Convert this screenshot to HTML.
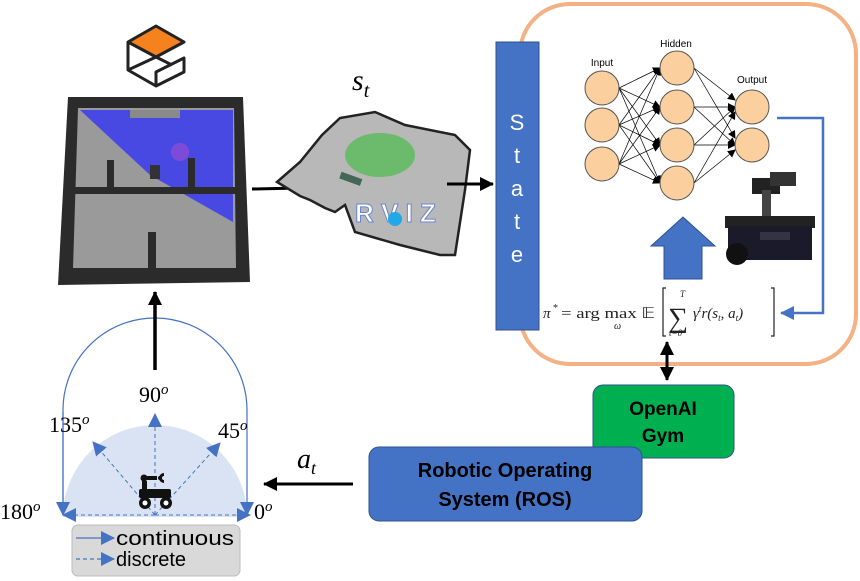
<!DOCTYPE html>
<html><head><meta charset="utf-8"><style>
html,body{margin:0;padding:0;background:#fff;}
svg{display:block;}
</style></head><body>
<svg width="860" height="581" viewBox="0 0 860 581" xmlns="http://www.w3.org/2000/svg" font-family="Liberation Sans, sans-serif">
<defs>
<marker id="abig" markerWidth="14" markerHeight="14" refX="13" refY="7" orient="auto" markerUnits="userSpaceOnUse"><path d="M0,0 L14,7 L0,14 z" fill="#000"/></marker>
<marker id="abl" markerWidth="14" markerHeight="14" refX="13" refY="7" orient="auto" markerUnits="userSpaceOnUse"><path d="M0,0 L14,7 L0,14 z" fill="#4472c4"/></marker>
<marker id="anl" markerWidth="8" markerHeight="8" refX="7" refY="4" orient="auto" markerUnits="userSpaceOnUse"><path d="M0,0 L8,4 L0,8 z" fill="#000"/></marker>
</defs>

<rect x="520" y="4" width="336" height="360" rx="50" fill="#fff" stroke="#f4b183" stroke-width="4"/>

<rect x="496" y="42" width="43" height="288" fill="#4472c4" stroke="#2f528f" stroke-width="1"/>
<g fill="#fff" font-size="22" text-anchor="middle">
<text x="517" y="130">S</text><text x="517" y="163">t</text><text x="517" y="196">a</text><text x="517" y="229">t</text><text x="517" y="262">e</text>
</g>

<g stroke="#000" stroke-width="0.7" marker-end="url(#anl)">
<line x1="619" y1="88" x2="660" y2="68"/><line x1="619" y1="88" x2="660" y2="107"/><line x1="619" y1="88" x2="660" y2="145"/><line x1="619" y1="88" x2="660" y2="183"/>
<line x1="619" y1="125" x2="660" y2="68"/><line x1="619" y1="125" x2="660" y2="107"/><line x1="619" y1="125" x2="660" y2="145"/><line x1="619" y1="125" x2="660" y2="183"/>
<line x1="619" y1="164" x2="660" y2="68"/><line x1="619" y1="164" x2="660" y2="107"/><line x1="619" y1="164" x2="660" y2="145"/><line x1="619" y1="164" x2="660" y2="183"/>
<line x1="694" y1="68" x2="735" y2="100"/><line x1="694" y1="68" x2="735" y2="138"/>
<line x1="694" y1="107" x2="735" y2="107"/><line x1="694" y1="107" x2="735" y2="145"/>
<line x1="694" y1="145" x2="735" y2="107"/><line x1="694" y1="145" x2="735" y2="145"/>
<line x1="694" y1="183" x2="735" y2="112"/><line x1="694" y1="183" x2="735" y2="150"/>
</g>
<g fill="#fbd09e" stroke="#555" stroke-width="1">
<circle cx="602" cy="88" r="17"/><circle cx="602" cy="125" r="17"/><circle cx="602" cy="164" r="17"/>
<circle cx="677" cy="68" r="17"/><circle cx="677" cy="107" r="17"/><circle cx="677" cy="145" r="17"/><circle cx="677" cy="183" r="17"/>
<circle cx="752" cy="107" r="17"/><circle cx="752" cy="145" r="17"/>
</g>
<g font-size="10" text-anchor="middle" fill="#000">
<text x="602" y="66">Input</text><text x="676" y="47">Hidden</text><text x="752" y="83">Output</text>
</g>

<path d="M664,279 L664,246 L651,246 L683,217 L715,246 L702,246 L702,279 Z" fill="#4472c4" stroke="#2f528f" stroke-width="1"/>

<g>
<rect x="752" y="178" width="28" height="16" fill="#222"/>
<rect x="770" y="172" width="26" height="14" fill="#333"/>
<rect x="762" y="190" width="9" height="28" fill="#444"/>
<rect x="725" y="216" width="90" height="12" fill="#222"/>
<rect x="728" y="226" width="84" height="34" fill="#1a1a2a"/>
<circle cx="737" cy="254" r="11" fill="#111"/>
<rect x="760" y="232" width="30" height="8" fill="#334"/>
</g>

<g font-family="Liberation Serif, serif" fill="#222">
<text x="543" y="318" font-size="15" font-style="italic">π</text><text x="553" y="311" font-size="10">*</text>
<text x="561" y="318" font-size="15" textLength="94" lengthAdjust="spacingAndGlyphs">= arg max 𝔼</text>
<text x="614" y="329" font-size="10" font-style="italic">ω</text>
<path d="M666,288 L663,288 L663,336 L666,336" fill="none" stroke="#222" stroke-width="1.2"/>
<text x="668" y="327" font-size="28">∑</text>
<text x="680" y="297" font-size="9" font-style="italic">T</text>
<text x="669" y="336" font-size="9" font-style="italic">t=0</text>
<text x="693" y="318" font-size="15" font-style="italic">γ<tspan font-size="9" dy="-6">t</tspan><tspan dy="6">r(s</tspan><tspan font-size="9" dy="3">t</tspan><tspan dy="-3">, a</tspan><tspan font-size="9" dy="3">t</tspan><tspan dy="-3">)</tspan></text>
<path d="M771,288 L774,288 L774,336 L771,336" fill="none" stroke="#222" stroke-width="1.2"/>
</g>

<polyline points="777,118 823,118 823,313 781,313" fill="none" stroke="#4472c4" stroke-width="2.5" marker-end="url(#abl)"/>

<line x1="667" y1="345" x2="667" y2="380" stroke="#000" stroke-width="3" marker-end="url(#abig)"/>
<line x1="667" y1="360" x2="667" y2="342" stroke="#000" stroke-width="3" marker-end="url(#abig)"/>

<rect x="593" y="385" width="141" height="73" rx="10" fill="#00b050" stroke="#2f528f" stroke-width="1"/>
<text x="663" y="415" font-size="19" font-weight="bold" text-anchor="middle" fill="#000">OpenAI</text>
<text x="663" y="442" font-size="19" font-weight="bold" text-anchor="middle" fill="#000">Gym</text>

<rect x="369" y="447" width="273" height="74" rx="10" fill="#4472c4" stroke="#2f528f" stroke-width="1"/>
<text x="505" y="477" font-size="20" font-weight="bold" text-anchor="middle" fill="#000">Robotic Operating</text>
<text x="505" y="506" font-size="20" font-weight="bold" text-anchor="middle" fill="#000">System (ROS)</text>

<line x1="353" y1="484" x2="264" y2="484" stroke="#000" stroke-width="3" marker-end="url(#abig)"/>
<text x="297" y="468" font-family="Liberation Serif, serif" font-size="28" font-style="italic">a<tspan font-size="18" dy="6">t</tspan></text>

<g stroke="#222" stroke-width="3" stroke-linejoin="round">
<path d="M128,42 L156,26 L184,42 L156,57 Z" fill="#f5821f"/>
<path d="M128,42 L128,70 L156,86 L156,72 L184,58 L184,72 L156,86 M128,70 L156,57 L172,65" fill="none"/>
</g>

<polygon points="68,97 243,97 250,282 58,285" fill="#2b2b2b"/>
<polygon points="78,108 234,108 236,268 73,268" fill="#9a9a9a"/>
<polygon points="80,110 233,110 233,222 150,175" fill="#3a3af0" opacity="0.85"/>
<rect x="130" y="110" width="50" height="8" fill="#8a8a8a"/>
<g fill="#2b2b2b">
<rect x="73" y="187" width="163" height="7"/>
<rect x="107" y="160" width="7" height="34"/>
<rect x="188" y="158" width="7" height="36"/>
<rect x="148" y="232" width="8" height="38"/>
</g>
<circle cx="180" cy="152" r="9" fill="#a050d0" opacity="0.6"/>
<rect x="150" y="165" width="10" height="14" fill="#333"/>

<line x1="252" y1="189" x2="300" y2="188" stroke="#000" stroke-width="3"/>

<polygon points="277,182 300,162 322,135 340,118 375,112 405,125 455,135 470,150 465,190 455,255 440,255 400,245 355,232 345,205 335,212 325,208 310,200 300,196" fill="#b8b8b8" stroke="#222" stroke-width="2.5"/>
<ellipse cx="380" cy="155" rx="35" ry="22" fill="#2dbb2d" opacity="0.55"/>
<rect x="340" y="175" width="22" height="7" fill="#465" transform="rotate(20 350 178)"/>
<text x="355" y="222" font-size="26" font-weight="bold" fill="#fff" stroke="#6a86d0" stroke-width="1">R V I Z</text>
<circle cx="395" cy="219" r="7" fill="#20a8e8"/>

<line x1="447" y1="184" x2="493" y2="184" stroke="#000" stroke-width="3" marker-end="url(#abig)"/>
<text x="352" y="90" font-family="Liberation Serif, serif" font-size="30" font-style="italic">s<tspan font-size="20" dy="7">t</tspan></text>

<path d="M63,517 A92,92 0 0 1 247,517 Z" fill="#dae3f3"/>
<path d="M63,515 L63,410 A92,92 0 0 1 247,410 L247,515" fill="none" stroke="#4472c4" stroke-width="1.2" marker-end="url(#abl)"/>
<line x1="63" y1="412" x2="63" y2="515" stroke="#4472c4" stroke-width="1.2" marker-end="url(#abl)"/>
<g stroke="#4472c4" stroke-width="1" stroke-dasharray="4,3" fill="none" marker-end="url(#abl)">
<line x1="155" y1="515" x2="155" y2="414"/>
<line x1="155" y1="515" x2="93" y2="442"/>
<line x1="155" y1="515" x2="220" y2="443"/>
<line x1="155" y1="515" x2="250" y2="515"/>
<line x1="155" y1="515" x2="63" y2="515"/>
</g>
<line x1="155" y1="370" x2="155" y2="292" stroke="#000" stroke-width="3.5" marker-end="url(#abig)"/>
<g fill="#111">
<circle cx="144" cy="478" r="3.5"/><rect x="147" y="476" width="10" height="4"/><circle cx="160" cy="478" r="2"/>
<path d="M164,473 a5,5 0 1 0 0,10 l0,-3 a2,2 0 1 1 0,-4 z"/>
<rect x="142" y="481" width="5" height="10"/>
<rect x="139" y="489" width="32" height="9" rx="2"/>
<circle cx="145" cy="503" r="6"/><circle cx="166" cy="503" r="6"/>
</g>
<circle cx="145" cy="503" r="2.5" fill="#fff"/><circle cx="166" cy="503" r="2.5" fill="#fff"/>
<g font-family="Liberation Serif, serif" font-size="22" fill="#000">
<text x="139" y="402">90<tspan font-size="15" font-style="italic" dy="-8">o</tspan></text>
<text x="49" y="432">135<tspan font-size="15" font-style="italic" dy="-8">o</tspan></text>
<text x="218" y="438">45<tspan font-size="15" font-style="italic" dy="-8">o</tspan></text>
<text x="0" y="519">180<tspan font-size="15" font-style="italic" dy="-8">o</tspan></text>
<text x="254" y="519">0<tspan font-size="15" font-style="italic" dy="-8">o</tspan></text>
</g>
<rect x="72" y="525" width="168" height="51" rx="6" fill="#d9d9d9" stroke="#bbb" stroke-width="1"/>
<line x1="76" y1="538" x2="114" y2="538" stroke="#4472c4" stroke-width="1.2" marker-end="url(#abl)"/>
<line x1="76" y1="559" x2="114" y2="559" stroke="#4472c4" stroke-width="1.2" stroke-dasharray="4,3" marker-end="url(#abl)"/>
<text x="116" y="545" font-size="20" fill="#000" textLength="118" lengthAdjust="spacingAndGlyphs">continuous</text>
<text x="116" y="566" font-size="20" fill="#000">discrete</text>
</svg>
</body></html>
